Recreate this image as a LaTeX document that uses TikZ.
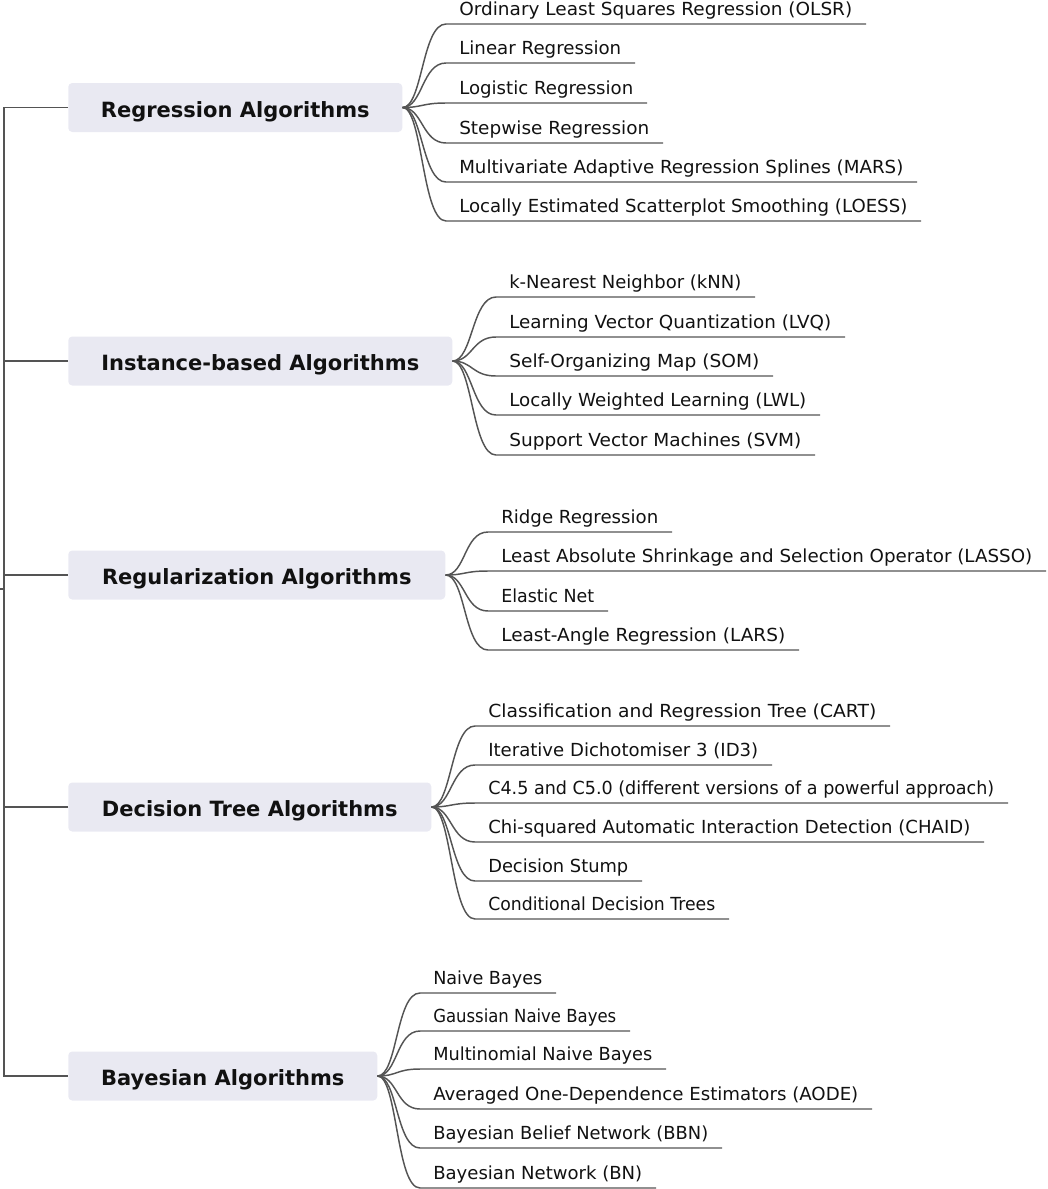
\documentclass[tikz,border=0pt]{standalone}
\usepackage{fontspec}
\setmainfont{DejaVu Sans}
\usepackage{graphicx}
\usetikzlibrary{calc}

\definecolor{linkgray}{RGB}{84,84,84}
\definecolor{topicfill}{RGB}{233,233,242}
\definecolor{inkblack}{RGB}{17,17,17}

% leaf entry: name, parent topic, text x, underline y, underline end x, label
\newcommand\mmleaf[6]{%
  \pgfmathsetmacro\mmw{(#5-14-#3)*0.75}%
  \coordinate (#1-s) at (#3-13,#4);
  \coordinate (#1-e) at (#5,#4);
  \node[leaf] (#1) at (#3,#4-8.5) {\resizebox{\mmw pt}{\height}{#6}};
  \draw[conn] (#2.east) .. controls +(20,0) and +(-24,0) .. (#1-s) -- (#1-e);
}

\begin{document}
\begin{tikzpicture}[x=0.75pt,y=-0.75pt,
  conn/.style={draw=linkgray,line width=1.1pt},
  topic/.style={fill=topicfill,rounded corners=3pt,anchor=west,inner sep=0pt,
    minimum height=36.75pt,text=inkblack,text height=14.7pt,text depth=0pt,
    font=\fontsize{15.75}{18}\selectfont\bfseries},
  leaf/.style={anchor=base west,inner sep=0pt,text=inkblack,
    font=\fontsize{13.5}{16}\selectfont}]

\useasboundingbox (0,0) rectangle (1047,1189);

% main topics
\node[topic,minimum width=250.5pt]  (reg) at (68,107.5) {Regression Algorithms};
\node[topic,minimum width=288pt]    (ins) at (68,361)   {Instance-based Algorithms};
\node[topic,minimum width=282.75pt] (rgl) at (68,575)   {Regularization Algorithms};
\node[topic,minimum width=272.25pt] (dec) at (68,807)   {Decision Tree Algorithms};
\node[topic,minimum width=231.75pt] (bay) at (68,1076)  {Bayesian Algorithms};

% trunk joining the topics
\coordinate (trunk) at (4,0);
\coordinate (root) at (0,589);
\draw[conn,line join=miter] (reg.west) -- (reg.west -| trunk) -- (bay.west -| trunk) -- (bay.west);
\draw[conn] (ins.west) -- (ins.west -| trunk);
\draw[conn] (rgl.west) -- (rgl.west -| trunk);
\draw[conn] (dec.west) -- (dec.west -| trunk);
\draw[conn] (root) -- (root -| trunk);

% regression
\mmleaf{r1}{reg}{459}{24}{866}{Ordinary Least Squares Regression (OLSR)}
\mmleaf{r2}{reg}{459}{63}{635}{Linear Regression}
\mmleaf{r3}{reg}{459}{103}{647}{Logistic Regression}
\mmleaf{r4}{reg}{459}{143}{663}{Stepwise Regression}
\mmleaf{r5}{reg}{459}{182}{917}{Multivariate Adaptive Regression Splines (MARS)}
\mmleaf{r6}{reg}{459}{221}{921}{Locally Estimated Scatterplot Smoothing (LOESS)}

% instance-based
\mmleaf{i1}{ins}{509}{297}{755}{k-Nearest Neighbor (kNN)}
\mmleaf{i2}{ins}{509}{337}{845}{Learning Vector Quantization (LVQ)}
\mmleaf{i3}{ins}{509}{376}{773}{Self-Organizing Map (SOM)}
\mmleaf{i4}{ins}{509}{415}{820}{Locally Weighted Learning (LWL)}
\mmleaf{i5}{ins}{509}{455}{815}{Support Vector Machines (SVM)}

% regularization
\mmleaf{g1}{rgl}{501}{532}{672}{Ridge Regression}
\mmleaf{g2}{rgl}{501}{571}{1046}{Least Absolute Shrinkage and Selection Operator (LASSO)}
\mmleaf{g3}{rgl}{501}{611}{608}{Elastic Net}
\mmleaf{g4}{rgl}{501}{650}{799}{Least-Angle Regression (LARS)}

% decision trees
\mmleaf{d1}{dec}{488}{726}{890}{Classification and Regression Tree (CART)}
\mmleaf{d2}{dec}{488}{765}{772}{Iterative Dichotomiser 3 (ID3)}
\mmleaf{d3}{dec}{488}{803}{1008}{C4.5 and C5.0 (different versions of a powerful approach)}
\mmleaf{d4}{dec}{488}{842}{984}{Chi-squared Automatic Interaction Detection (CHAID)}
\mmleaf{d5}{dec}{488}{881}{642}{Decision Stump}
\mmleaf{d6}{dec}{488}{919}{729}{Conditional Decision Trees}

% bayesian
\mmleaf{b1}{bay}{433}{993}{556}{Naive Bayes}
\mmleaf{b2}{bay}{433}{1031}{630}{Gaussian Naive Bayes}
\mmleaf{b3}{bay}{433}{1069}{666}{Multinomial Naive Bayes}
\mmleaf{b4}{bay}{433}{1109}{872}{Averaged One-Dependence Estimators (AODE)}
\mmleaf{b5}{bay}{433}{1148}{722}{Bayesian Belief Network (BBN)}
\mmleaf{b6}{bay}{433}{1188}{656}{Bayesian Network (BN)}

\end{tikzpicture}
\end{document}
